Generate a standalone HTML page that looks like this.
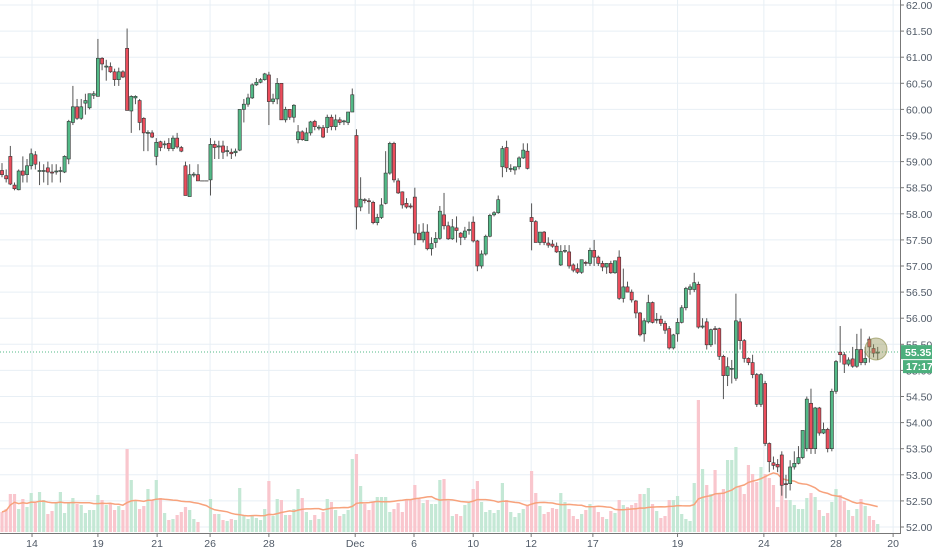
<!DOCTYPE html>
<html><head><meta charset="utf-8"><style>
html,body{margin:0;padding:0;background:#fff;width:932px;height:550px;overflow:hidden}
svg{display:block;font-family:"Liberation Sans",sans-serif}
</style></head><body>
<svg id="chart" width="932" height="550" viewBox="0 0 932 550" xmlns="http://www.w3.org/2000/svg">
<defs><clipPath id="plotClip"><rect x="0" y="0" width="900" height="550"/></clipPath></defs>
<g id="grid"></g>
<g id="volume" clip-path="url(#plotClip)"></g>
<g id="ma"></g>
<line x1="0" x2="900" y1="352" y2="352" stroke="#53b987" stroke-width="1" stroke-dasharray="1,2"/>
<g id="candles"></g>
<circle cx="876" cy="349" r="11" fill="rgba(150,150,90,0.45)" stroke="rgba(150,150,90,0.7)" stroke-width="1"/>
<g id="axes"></g>
</svg>
<script>
const opens=[58.83,58.73,59.1,58.55,58.46,58.82,58.75,58.92,59.13,58.82,58.82,58.88,58.8,58.82,58.82,58.8,59.05,59.75,60.05,59.83,60.12,60.03,60.27,60.25,60.98,60.82,60.82,60.72,60.57,60.72,61.17,59.97,60.22,60.17,59.83,59.55,59.55,59.1,59.38,59.33,59.35,59.25,59.45,59.27,58.92,58.33,58.75,58.75,58.63,58.63,58.65,59.33,59.28,59.3,59.2,59.18,59.17,59.22,60.0,60.1,60.22,60.47,60.52,60.57,60.66,60.15,60.2,60.5,59.8,60.0,59.85,59.42,59.57,59.4,59.55,59.77,59.65,59.65,59.65,59.85,59.67,59.8,59.77,59.75,59.95,59.5,58.13,58.27,58.25,58.22,57.83,57.93,58.2,58.78,59.35,58.63,58.42,58.2,58.15,58.32,57.63,57.5,57.65,57.33,57.45,57.53,57.98,57.77,57.52,57.73,57.63,57.55,57.69,57.84,57.48,57.0,57.23,57.57,57.98,58.02,58.9,59.27,58.86,58.84,58.9,59.07,59.2,57.93,57.85,57.45,57.65,57.44,57.42,57.38,57.02,57.29,57.27,57.02,56.95,56.88,57.07,57.05,57.3,57.17,57.05,56.98,57.05,56.87,57.17,56.38,56.6,56.5,56.33,56.1,55.7,55.93,56.3,55.97,55.98,55.9,55.8,55.43,55.7,55.92,56.2,56.55,56.55,56.65,55.83,55.93,55.49,55.8,55.8,55.27,54.9,55.03,54.85,55.93,55.57,55.23,55.15,54.92,54.35,54.75,53.6,53.23,53.2,53.38,52.83,52.83,53.15,53.22,53.33,53.5,54.37,53.5,54.28,53.8,53.87,53.5,54.6,55.35,55.3,55.12,55.22,55.08,55.4,55.15,55.6,55.42,55.35];
const highs=[58.97,58.85,59.3,58.6,58.85,59.1,59.05,59.25,59.2,59.0,58.95,59.0,58.95,58.95,58.9,59.12,59.8,60.45,60.2,60.2,60.3,60.3,60.35,61.35,61.0,60.95,60.9,60.78,60.8,60.75,61.55,60.27,60.27,60.2,59.85,59.6,59.6,59.45,59.4,59.4,59.45,59.5,59.55,59.3,59.0,58.95,58.8,58.95,58.63,58.63,59.45,59.4,59.4,59.4,59.3,59.25,59.25,60.0,60.2,60.3,60.5,60.6,60.6,60.7,60.72,60.3,60.6,60.5,60.05,60.0,60.1,59.7,59.6,59.65,59.78,59.8,59.7,59.7,59.9,59.9,59.9,59.85,59.8,59.95,60.4,59.62,58.7,58.3,58.3,58.25,58.0,58.3,59.2,59.38,59.38,58.68,58.43,58.3,58.2,58.5,57.8,57.82,57.8,57.55,57.65,58.15,58.4,57.85,57.9,57.95,57.65,57.75,57.85,57.95,57.5,57.3,57.6,58.0,58.05,58.35,59.3,59.4,58.95,58.9,59.1,59.35,59.35,58.2,57.88,57.65,57.67,57.55,57.5,57.45,57.4,57.4,57.4,57.05,57.05,57.12,57.1,57.35,57.5,57.2,57.1,57.05,57.1,57.1,57.3,56.95,56.7,56.55,56.35,56.12,56.0,56.45,56.32,56.1,56.05,55.95,55.85,55.7,56.0,56.25,56.6,56.65,56.87,56.7,56.0,56.0,55.8,55.85,55.82,55.3,55.25,55.2,56.47,56.0,55.6,55.25,55.3,54.95,54.95,54.8,53.62,53.35,53.3,53.45,53.0,53.28,53.45,53.55,53.85,54.5,54.65,54.3,54.3,54.0,53.9,54.65,55.2,55.85,55.35,55.25,55.45,55.7,55.8,55.45,55.65,55.5,55.45];
const lows=[58.7,58.6,58.55,58.45,58.45,58.6,58.6,58.85,58.85,58.55,58.6,58.55,58.6,58.75,58.6,58.78,58.95,59.7,59.8,59.8,59.9,60.0,60.2,60.25,60.75,60.55,60.7,60.45,60.45,60.6,59.98,59.55,60.1,59.6,59.2,59.2,59.45,58.93,59.2,59.25,59.2,59.2,59.25,59.18,58.35,58.33,58.7,58.63,58.63,58.63,58.35,59.05,59.05,59.05,59.1,59.05,59.1,59.2,59.75,60.05,60.2,60.45,60.5,60.55,59.7,60.1,60.1,59.8,59.75,59.8,59.75,59.35,59.4,59.4,59.5,59.6,59.6,59.45,59.55,59.6,59.6,59.7,59.7,59.7,59.95,57.7,58.05,58.2,58.0,57.8,57.78,57.9,58.18,58.75,58.6,58.38,58.1,58.1,58.1,57.4,57.5,57.45,57.3,57.2,57.35,57.5,57.7,57.5,57.5,57.45,57.4,57.5,57.6,57.45,56.9,56.95,57.2,57.55,57.95,58.0,58.7,58.8,58.8,58.75,58.85,59.05,58.85,57.3,57.45,57.4,57.4,57.35,57.35,57.25,57.0,57.25,56.95,56.88,56.85,56.85,57.0,57.0,57.0,57.0,56.9,56.85,56.85,56.85,56.35,56.3,56.5,56.3,56.0,55.65,55.55,55.9,55.9,55.9,55.85,55.7,55.4,55.4,55.55,55.9,56.15,56.45,56.5,55.8,55.8,55.4,55.45,55.5,55.2,54.45,54.7,54.75,54.8,55.4,55.15,55.1,54.85,54.3,54.3,53.55,53.05,53.1,53.05,52.6,52.55,52.7,53.1,53.2,53.3,53.45,53.4,53.4,53.75,53.78,53.43,53.45,54.55,55.15,54.95,55.08,55.05,55.05,55.1,55.1,55.15,55.25,55.2];
const closes=[58.75,58.67,58.57,58.48,58.82,58.74,58.92,59.15,58.95,58.83,58.83,58.8,58.78,58.82,58.83,59.1,59.77,60.05,59.83,60.05,60.17,60.3,60.3,60.98,60.87,60.83,60.72,60.57,60.72,60.62,59.98,60.25,60.25,59.75,59.55,59.56,59.47,59.37,59.27,59.34,59.25,59.45,59.28,59.2,58.35,58.75,58.76,58.63,58.63,58.63,59.33,59.27,59.3,59.18,59.21,59.15,59.2,60.0,60.1,60.22,60.47,60.52,60.57,60.68,60.15,60.2,60.5,59.8,60.0,59.85,60.08,59.57,59.42,59.55,59.76,59.67,59.66,59.47,59.85,59.67,59.8,59.75,59.78,59.95,60.28,58.13,58.28,58.26,58.24,57.83,57.93,58.17,58.78,59.35,58.65,58.4,58.17,58.13,58.14,57.63,57.5,57.65,57.33,57.43,57.53,58.05,57.77,57.52,57.75,57.68,57.55,57.67,57.7,57.48,57.0,57.23,57.57,57.97,58.02,58.27,59.25,58.88,58.87,58.9,59.07,59.22,58.87,57.85,57.45,57.65,57.45,57.4,57.38,57.27,57.28,57.3,57.0,56.92,56.88,57.12,57.05,57.3,57.17,57.05,56.98,57.05,56.87,57.1,56.38,56.6,56.5,56.35,56.1,55.68,55.95,56.3,55.92,55.98,55.9,55.77,55.43,55.68,55.92,56.2,56.57,56.6,56.68,55.83,55.85,55.49,55.78,55.79,55.27,54.9,55.07,55.04,55.95,55.57,55.23,55.15,54.92,54.35,54.92,53.6,53.25,53.18,53.15,52.8,52.82,53.15,53.22,53.33,53.85,54.45,53.5,54.28,53.8,53.87,53.5,54.6,55.17,55.3,55.12,55.2,55.08,55.4,55.15,55.23,55.45,55.33,55.35];
const volumes=[20,23,38,38,23,33,25,39,29,40,32,18,21,30,40,19,29,34,28,27,19,22,22,37,32,27,29,22,26,22,83,52,32,23,26,43,32,52,34,19,12,13,17,20,25,22,13,10,0,0,33,18,18,12,11,13,12,44,17,13,17,14,12,23,51,16,33,32,17,17,23,43,34,20,12,17,13,20,33,30,22,16,18,22,73,78,46,28,22,30,35,35,35,20,23,29,20,33,32,47,33,29,32,28,28,52,53,31,16,18,16,27,29,43,51,30,20,22,19,22,49,32,20,15,19,23,27,61,39,26,18,20,24,23,39,30,23,16,13,18,22,28,25,20,15,13,21,19,32,27,25,27,29,38,38,44,28,21,14,16,32,32,36,18,13,11,49,132,63,47,38,62,38,43,72,72,85,45,38,67,58,50,65,58,54,47,25,47,32,32,27,23,23,34,39,35,22,16,19,30,43,37,31,22,16,23,33,26,16,12,8];
const dateLabels=['14','19','21','26','28','Dec','6','10','12','17','19','24','28','20'];
const dateIndex=[7.2,23,37.2,49.9,64,84.7,98.8,113,126.9,141.7,162,182.7,200,213.7];
const priceTicks=[52,52.5,53,53.5,54,54.5,55,55.5,56,56.5,57,57.5,58,58.5,59,59.5,60,60.5,61,61.5,62];
const lastPrice=55.35;

const NS='http://www.w3.org/2000/svg';
const xOf=i=>2+i*4.17;
const yOf=p=>5+(62-p)*52.2;
const vOf=v=>532-v;
function mk(tag,attrs,parent){const e=document.createElementNS(NS,tag);for(const k in attrs)e.setAttribute(k,attrs[k]);parent.appendChild(e);return e;}
const grid=document.getElementById('grid');
priceTicks.forEach(p=>{const l=mk('line',{x1:0,x2:900,y1:yOf(p),y2:yOf(p),stroke:'#e8eff5','stroke-width':1},grid);

});
dateIndex.forEach(i=>{const l=mk('line',{x1:xOf(i),x2:xOf(i),y1:0,y2:533,stroke:'#e8eff5','stroke-width':1},grid);

});

const vg=document.getElementById('volume');
volumes.forEach((v,i)=>{if(!v)return;const up=closes[i]>=opens[i];
const r=mk('rect',{x:xOf(i)-1.6,y:vOf(v),width:3.2,height:v,fill:up?'#c4e8d5':'#f9c6cd'},vg);

});

const ma=[];volumes.forEach((v,i)=>{const s=Math.max(0,i-19);let t=0,n=0;for(let j=s;j<=i;j++){t+=volumes[j];n++;}ma.push(t/n);});
const mp=mk('path',{d:ma.map((m,i)=>(i?'L':'M')+xOf(i).toFixed(1)+','+vOf(m).toFixed(1)).join(''),fill:'none',stroke:'#f7a27c','stroke-width':1.5},document.getElementById('ma'));



const cg=document.getElementById('candles');
opens.forEach((o,i)=>{const c=closes[i],h=highs[i],l=lows[i],x=xOf(i);
const g=mk('g',{},cg);


if(h===l){mk('line',{x1:x-2.1,x2:x+2.1,y1:yOf(o),y2:yOf(o),stroke:'#555','stroke-width':1},g);return;}
mk('line',{x1:x,x2:x,y1:yOf(h),y2:yOf(l),stroke:'#555','stroke-width':1},g);
const top=yOf(Math.max(o,c)),bot=yOf(Math.min(o,c));
mk('rect',{x:x-1.6,y:top,width:3.2,height:Math.max(1,bot-top),fill:c>=o?'#53b987':'#eb4d5c',stroke:'#333','stroke-width':0.6},g);});

const ax=document.getElementById('axes');
const al=mk('line',{x1:900.5,x2:900.5,y1:0,y2:533,stroke:'#777','stroke-width':1},ax);


const bl=mk('line',{x1:0,x2:901,y1:533.5,y2:533.5,stroke:'#777','stroke-width':1},ax);


priceTicks.forEach(p=>{mk('line',{x1:900,x2:904,y1:yOf(p),y2:yOf(p),stroke:'#777'},ax);
const t=mk('text',{x:906,y:yOf(p)+4,'font-size':10.5,fill:'#4f5966'},ax);t.textContent=p.toFixed(2);

});
dateIndex.forEach((i,k)=>{mk('line',{x1:xOf(i),x2:xOf(i),y1:533,y2:537,stroke:'#777'},ax);
const t=mk('text',{x:xOf(i),y:547,'font-size':10.5,fill:'#4f5966','text-anchor':'middle','clip-path':'url(#plotClip)'},ax);t.textContent=dateLabels[k];

});
const pb=mk('rect',{x:901,y:yOf(lastPrice)-7,width:31,height:14,fill:'#4caf7d'},ax);


const pt=mk('text',{x:905,y:yOf(lastPrice)+4,'font-size':10.5,fill:'#fff','font-weight':'bold'},ax);pt.textContent=lastPrice.toFixed(2);


const tb=mk('rect',{x:903,y:yOf(lastPrice)+8,width:29,height:13,fill:'#4caf7d'},ax);


const tt=mk('text',{x:906,y:yOf(lastPrice)+18,'font-size':10.5,fill:'#fff','font-weight':'bold'},ax);tt.textContent='17:17';


</script>
</body></html>
